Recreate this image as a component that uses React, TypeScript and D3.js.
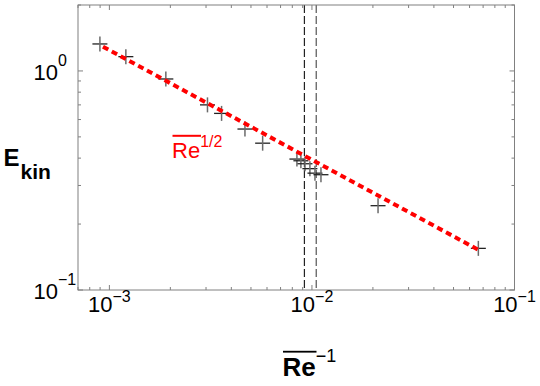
import * as d3 from 'd3';

// E_kin against 1/Re
const reInv = [
  8.98e-4, 1.206e-3, 1.9e-3, 3.05e-3, 3.58e-3, 4.67e-3, 5.71e-3, 8.43e-3, 8.82e-3, 9.24e-3,
  9.77e-3, 1.035e-2, 1.108e-2, 2.12e-2, 6.63e-2,
];
const ekin = [
  1.328, 1.162, 0.919, 0.7, 0.64, 0.543, 0.468, 0.396, 0.389, 0.377, 0.358, 0.3415, 0.336, 0.2426,
  0.1549,
];

// Re^(1/2) scaling line, two end points
const fitX = [9.3e-4, 6.6e-2];
const fitY = [1.29, 0.153];

// vertical dashed markers
const markerX = [9.18e-3, 1.05e-2];

const xDecades = [-3, -2, -1];
const yDecades = [-1, 0];

const width = 540;
const height = 386;
const margin = { top: 5, right: 25.5, bottom: 96, left: 78 };
const font = "'Liberation Sans', Arial, sans-serif";

function minorTicks(lo: number, hi: number) {
  const out: number[] = [];
  for (let d = Math.floor(Math.log10(lo)); d <= Math.ceil(Math.log10(hi)); d++) {
    for (let k = 1; k <= 9; k++) {
      const v = k * Math.pow(10, d);
      if (v >= lo * 0.999 && v <= hi * 1.001) out.push(v);
    }
  }
  return out;
}

export default function App() {
  const x0 = margin.left;
  const x1 = width - margin.right;
  const y0 = height - margin.bottom;
  const y1 = margin.top;

  const x = d3.scaleLog().domain([7e-4, 0.1]).range([x0, x1]);
  const y = d3.scaleLog().domain([0.1, 2]).range([y0, y1]);

  const xTicks = minorTicks(7e-4, 0.1);
  const yTicks = minorTicks(0.1, 2);
  const isMajor = (v: number) => Math.abs(Math.log10(v) - Math.round(Math.log10(v))) < 1e-6;

  const fitLine = d3
    .line<number>()
    .x((d) => x(d))
    .y((_, i) => y(fitY[i]));

  const arm = 7.5;
  const axisColor = '#808080';

  return (
    <svg
      width={width}
      height={height}
      viewBox={`0 0 ${width} ${height}`}
      style={{ position: 'absolute', left: 0, top: 0, background: '#fff' }}
      fontFamily={font}
    >
      {/* ticks on all four sides, pointing in */}
      {xTicks.map((t) => {
        const len = isMajor(t) ? 5 : 3;
        return (
          <g key={`xt${t}`} stroke={axisColor} strokeWidth={1}>
            <line x1={x(t)} x2={x(t)} y1={y0} y2={y0 - len} />
            <line x1={x(t)} x2={x(t)} y1={y1} y2={y1 + len} />
          </g>
        );
      })}
      {yTicks.map((t) => {
        const len = isMajor(t) ? 5 : 3;
        return (
          <g key={`yt${t}`} stroke={axisColor} strokeWidth={1}>
            <line x1={x0} x2={x0 + len} y1={y(t)} y2={y(t)} />
            <line x1={x1} x2={x1 - len} y1={y(t)} y2={y(t)} />
          </g>
        );
      })}

      {/* dashed markers */}
      {markerX.map((m, i) => (
        <line
          key={`m${i}`}
          x1={x(m)}
          x2={x(m)}
          y1={y1}
          y2={y0}
          stroke={i === 0 ? '#222' : '#555'}
          strokeWidth={1.2}
          strokeDasharray="8 3"
        />
      ))}

      {/* data crosses */}
      {reInv.map((r, i) => (
        <g key={`p${i}`}>
          <line x1={x(r) - arm} x2={x(r) + arm} y1={y(ekin[i])} y2={y(ekin[i])} stroke="#222" strokeWidth={1.3} />
          <line x1={x(r)} x2={x(r)} y1={y(ekin[i]) - arm} y2={y(ekin[i]) + arm} stroke="#6a6a6a" strokeWidth={1.5} />
        </g>
      ))}

      {/* fit line */}
      <path d={fitLine(fitX) ?? ''} fill="none" stroke="#ff0000" strokeWidth={4} strokeDasharray="6 4" />

      <rect x={x0} y={y1} width={x1 - x0} height={y0 - y1} fill="none" stroke={axisColor} strokeWidth={1} />

      {/* tick labels */}
      {xDecades.map((d) => (
        <text key={`xl${d}`} x={x(Math.pow(10, d))} y={y0 + 22} textAnchor="middle" fontSize={22} fill="#000">
          <tspan>10</tspan>
          <tspan dy={-10} fontSize={16}>
            {`\u2212${-d}`}
          </tspan>
        </text>
      ))}
      {yDecades.map((d) => (
        <text key={`yl${d}`} x={33.5} y={y(Math.pow(10, d)) + 9} textAnchor="start" fontSize={22} fill="#000">
          <tspan>10</tspan>
          <tspan dy={-14} fontSize={16}>
            {d < 0 ? `\u2212${-d}` : `${d}`}
          </tspan>
        </text>
      ))}

      {/* y label */}
      <text x={3.5} y={165.5} fontSize={24} fontWeight="bold" fill="#000">
        E
      </text>
      <text x={20.5} y={179} fontSize={21} fontWeight="bold" fill="#000">
        kin
      </text>

      {/* x label */}
      <rect x={283} y={350.8} width={33.5} height={1.8} fill="#000" />
      <text x={282.5} y={376} fill="#000">
        <tspan fontSize={26} fontWeight="bold">
          Re
        </tspan>
        <tspan dy={-14} fontSize={18}>
          {'\u22121'}
        </tspan>
      </text>

      {/* fit label */}
      <rect x={172.5} y={134.8} width={28.5} height={2} fill="#ff0000" />
      <text x={172} y={158} fill="#ff0000">
        <tspan fontSize={22}>Re</tspan>
        <tspan dy={-11} fontSize={16}>
          1/2
        </tspan>
      </text>
    </svg>
  );
}
